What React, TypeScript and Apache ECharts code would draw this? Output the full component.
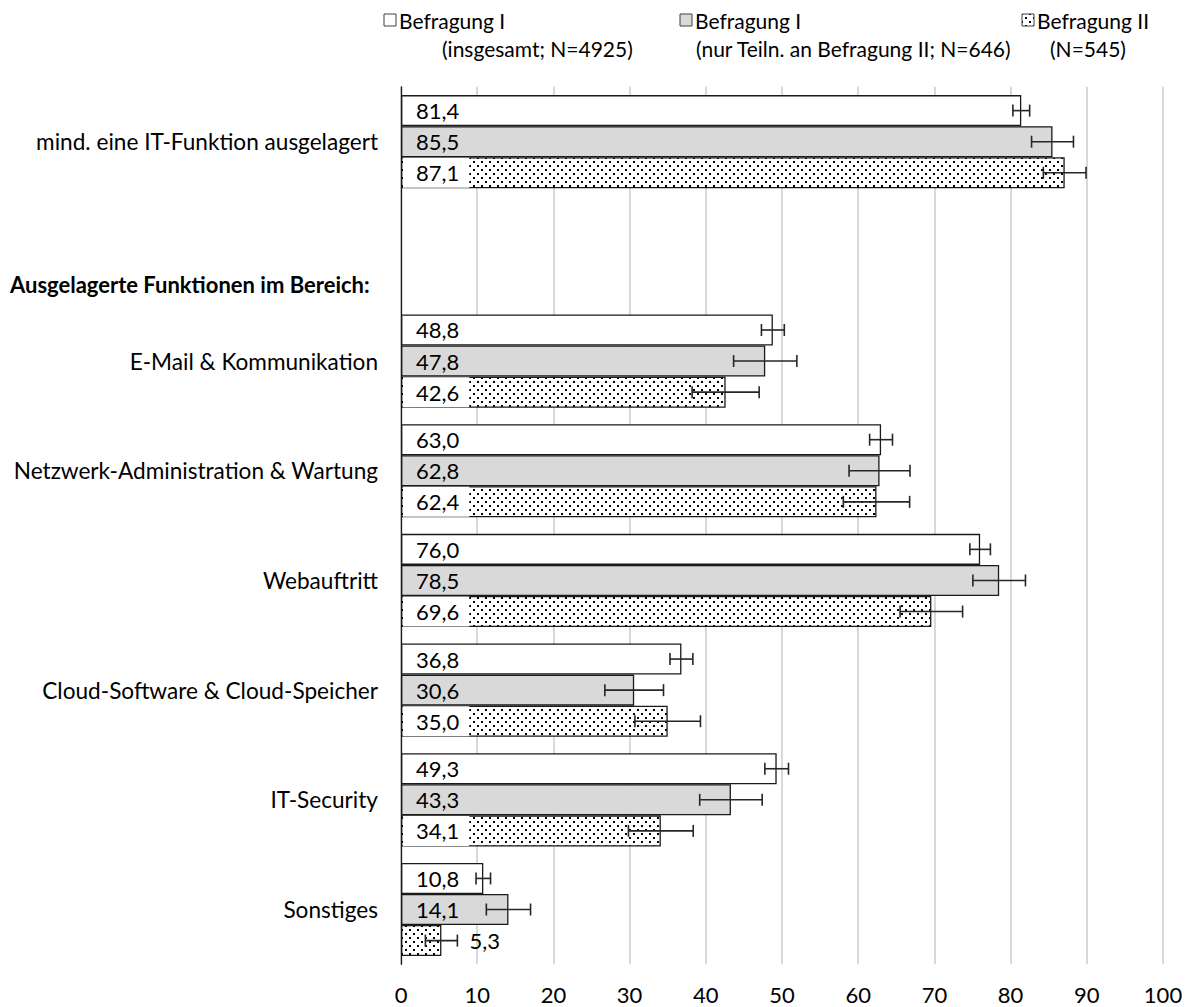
import React, { useEffect, useRef } from "react";
import * as echarts from "echarts";

const categories = [
  "mind. eine IT-Funktion ausgelagert",
  "",
  "E-Mail & Kommunikation",
  "Netzwerk-Administration & Wartung",
  "Webauftritt",
  "Cloud-Software & Cloud-Speicher",
  "IT-Security",
  "Sonstiges",
];
const sectionTitle = "Ausgelagerte Funktionen im Bereich:";
const seriesNames = [
  "Befragung I (insgesamt; N=4925)",
  "Befragung I (nur Teiln. an Befragung II; N=646)",
  "Befragung II (N=545)",
];
const legendLine1 = ["Befragung I", "Befragung I", "Befragung II"];
const legendLine2 = ["(insgesamt; N=4925)", "(nur Teiln. an Befragung II; N=646)", "(N=545)"];

const befragung1Gesamt = [81.4, null, 48.8, 63.0, 76.0, 36.8, 49.3, 10.8];
const befragung1Teiln = [85.5, null, 47.8, 62.8, 78.5, 30.6, 43.3, 14.1];
const befragung2 = [87.1, null, 42.6, 62.4, 69.6, 35.0, 34.1, 5.3];

const err1Gesamt = [1.1, null, 1.5, 1.5, 1.35, 1.5, 1.55, 0.95];
const err1Teiln = [2.75, null, 4.15, 4.0, 3.45, 3.85, 4.1, 2.9];
const err2 = [2.8, null, 4.4, 4.35, 4.1, 4.3, 4.25, 2.1];

const xMin = 0;
const xMax = 100;
const xInterval = 10;

const FONT = "Lato";
const FS = 22;
const FS_CAT = 22.6;
const FS_LEG = 21;

function makeDots(): HTMLCanvasElement {
  const c = document.createElement("canvas");
  c.width = 8;
  c.height = 8;
  const ctx = c.getContext("2d")!;
  ctx.fillStyle = "#ffffff";
  ctx.fillRect(0, 0, 8, 8);
  ctx.fillStyle = "#000000";
  ctx.fillRect(1, 1, 2, 2);
  ctx.fillRect(5, 5, 2, 2);
  return c;
}

const fmt = (v: number) => v.toFixed(1).replace(".", ",");

export default function App() {
  const ref = useRef<HTMLDivElement>(null);
  useEffect(() => {
    if (!ref.current) return;
    const chart = echarts.init(ref.current, undefined, { renderer: "svg" });
    const dots = makeDots();
    const dotPattern: any = { image: dots, repeat: "repeat", imageWidth: 8, imageHeight: 8 };
    const fills: any[] = ["#ffffff", "#d9d9d9", dotPattern];
    const labelBg = ["transparent", "transparent", "#ffffff"];
    const values = [befragung1Gesamt, befragung1Teiln, befragung2];
    const errs = [err1Gesamt, err1Teiln, err2];

    const barSeries = values.map((arr, s) => ({
      type: "bar",
      name: seriesNames[s],
      barGap: "0%",
      barCategoryGap: "15%",
      itemStyle: { color: fills[s], borderColor: "#1a1a1a", borderWidth: 1.3 },
      label: {
        show: true,
        position: "insideLeft",
        distance: 2,
        formatter: (p: any) => fmt(p.value),
        color: "#000",
        fontFamily: FONT,
        fontSize: FS,
        lineHeight: 22,
        padding: [4, 10, 4, 13],
        backgroundColor: labelBg[s],
      },
      data: arr.map((v) => {
        if (v == null) return "-";
        if (v < 8) {
          return {
            value: v,
            label: { position: "right", distance: 28, backgroundColor: "transparent", padding: 0 },
          };
        }
        return v;
      }),
      z: 2,
    }));

    const errData: number[][] = [];
    values.forEach((arr, s) => {
      arr.forEach((v, i) => {
        const e = errs[s][i];
        if (v != null && e != null) errData.push([i, v - e, v + e, s]);
      });
    });

    const errSeries = {
      type: "custom",
      name: "Fehlerbalken",
      encode: { y: 0, x: [1, 2] },
      data: errData,
      z: 10,
      renderItem: (params: any, api: any) => {
        const cat = api.value(0);
        const lo = api.value(1);
        const hi = api.value(2);
        const s = api.value(3);
        const band = api.size([0, 1])[1];
        const bw = (band * 0.85) / 3;
        const yc = api.coord([0, cat])[1] + (s - 1) * bw;
        const x1 = api.coord([lo, cat])[0];
        const x2 = api.coord([hi, cat])[0];
        const cap = 6;
        const st = { stroke: "#262626", lineWidth: 1.6 };
        return {
          type: "group",
          children: [
            { type: "line", shape: { x1, y1: yc, x2, y2: yc }, style: st },
            { type: "line", shape: { x1, y1: yc - cap, x2: x1, y2: yc + cap }, style: st },
            { type: "line", shape: { x1: x2, y1: yc - cap, x2, y2: yc + cap }, style: st },
          ],
        };
      },
    };

    const legendX = [
      { icon: 384, t1: 399, t2: 442 },
      { icon: 680, t1: 695, t2: 696 },
      { icon: 1022, t1: 1037, t2: 1050 },
    ];
    const legendGraphics: any[] = [];
    legendX.forEach((p, s) => {
      legendGraphics.push({
        type: "rect",
        shape: { x: p.icon, y: 14, width: 12, height: 12 },
        style: { fill: fills[s], stroke: "#404040", lineWidth: 1 },
      });
      legendGraphics.push({
        type: "text",
        x: p.t1,
        y: 20,
        style: { text: legendLine1[s], fill: "#000", font: `${FS_LEG}px ${FONT}`, verticalAlign: "middle" },
      });
      legendGraphics.push({
        type: "text",
        x: p.t2,
        y: 48,
        style: { text: legendLine2[s], fill: "#000", font: `${FS_LEG}px ${FONT}`, verticalAlign: "middle" },
      });
    });
    legendGraphics.push({
      type: "text",
      x: 10,
      y: 284,
      style: { text: sectionTitle, fill: "#000", font: `bold ${FS}px ${FONT}`, verticalAlign: "middle" },
    });

    chart.setOption({
      animation: false,
      backgroundColor: "#ffffff",
      grid: { left: 401, right: 27, top: 86.85, bottom: 42.65, containLabel: false },
      xAxis: {
        type: "value",
        min: xMin,
        max: xMax,
        interval: xInterval,
        axisLine: { show: false },
        axisTick: { show: false },
        splitLine: { show: true, lineStyle: { color: "#d9d9d9", width: 2 } },
        axisLabel: { color: "#000", fontFamily: FONT, fontSize: FS, margin: 19 },
      },
      yAxis: {
        type: "category",
        inverse: true,
        data: categories,
        axisLine: { show: true, lineStyle: { color: "#1a1a1a", width: 1.3 } },
        axisTick: { show: false },
        axisLabel: { color: "#000", fontFamily: FONT, fontSize: FS_CAT, margin: 23 },
        z: 5,
      },
      graphic: legendGraphics,
      series: [...barSeries, errSeries],
    });
    return () => chart.dispose();
  }, []);
  return (
    <div
      ref={ref}
      style={{ position: "absolute", left: 0, top: 0, width: 1190, height: 1007 }}
    />
  );
}
